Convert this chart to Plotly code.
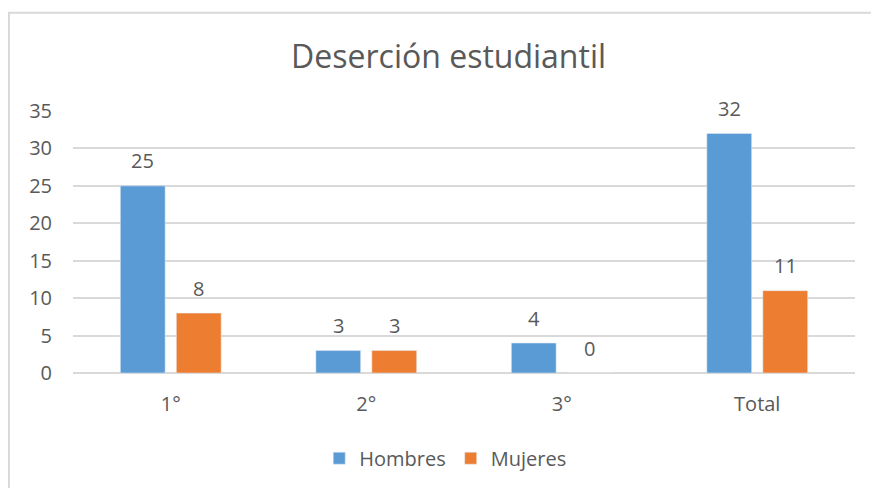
import plotly.graph_objects as go

categories = ["1°", "2°", "3°", "Total"]
hombres = [25, 3, 4, 32]
mujeres = [8, 3, 0, 11]
y_ticks = [0, 5, 10, 15, 20, 25, 30, 35]

W, H = 871, 488
L, R_edge, T, B_edge = 73, 855, 110.5, 373.5
pw, ph = R_edge - L, B_edge - T

font = "Open Sans, Noto Sans, sans-serif"
grey = "#595959"
colors = {"Hombres": "#5B9BD5", "Mujeres": "#ED7D31"}

fig = go.Figure()
fig.add_trace(go.Bar(name="Hombres", x=categories, y=hombres, marker_color=colors["Hombres"]))
fig.add_trace(go.Bar(name="Mujeres", x=categories, y=mujeres, marker_color=colors["Mujeres"]))

# data labels placed through the axes, offset to each bar of the group
for vals, dx in ((hombres, -28), (mujeres, 28)):
    for c, v in zip(categories, vals):
        fig.add_annotation(x=c, y=v, xref="x", yref="y", text=str(v), showarrow=False,
                           xshift=dx, yshift=25, yanchor="middle", xanchor="center",
                           font=dict(size=20, color=grey, family=font))


def px_x(x):
    return (x - L) / pw


def px_y(y):
    return (B_edge - y) / ph


fig.add_shape(type="rect", xref="paper", yref="paper",
              x0=px_x(9), x1=px_x(W + 20), y0=px_y(H + 20), y1=px_y(12),
              line=dict(color="#D9D9D9", width=2), fillcolor="rgba(0,0,0,0)", layer="below")

fig.update_layout(
    width=W, height=H,
    margin=dict(l=L, r=W - R_edge, t=T, b=H - B_edge, autoexpand=False),
    paper_bgcolor="white", plot_bgcolor="white",
    barmode="group", bargap=0.427, bargroupgap=0.2,
    title=dict(text="Deserción estudiantil", x=0.515, xanchor="center",
               y=1 - 57 / H, yanchor="middle",
               font=dict(size=32, color=grey, family=font)),
    font=dict(family=font, color=grey, size=20),
    legend=dict(orientation="h", x=0.476, xanchor="center", y=px_y(459), yanchor="middle",
                font=dict(size=20, color=grey, family=font), itemwidth=30,
                traceorder="normal"),
    xaxis=dict(showgrid=False, showline=False, ticks="", ticklabelstandoff=17,
               tickfont=dict(size=20, color=grey)),
    yaxis=dict(range=[0, 35], tickvals=y_ticks, showgrid=True, gridcolor="#D9D9D9", gridwidth=2,
               zeroline=True, zerolinecolor="#D9D9D9", zerolinewidth=2, showline=False,
               ticks="", ticklabelstandoff=20, tickfont=dict(size=20, color=grey)),
)

fig.write_html("out.html", config={"displayModeBar": False},
               post_script="document.body.style.margin='0';document.body.style.overflow='hidden';")
